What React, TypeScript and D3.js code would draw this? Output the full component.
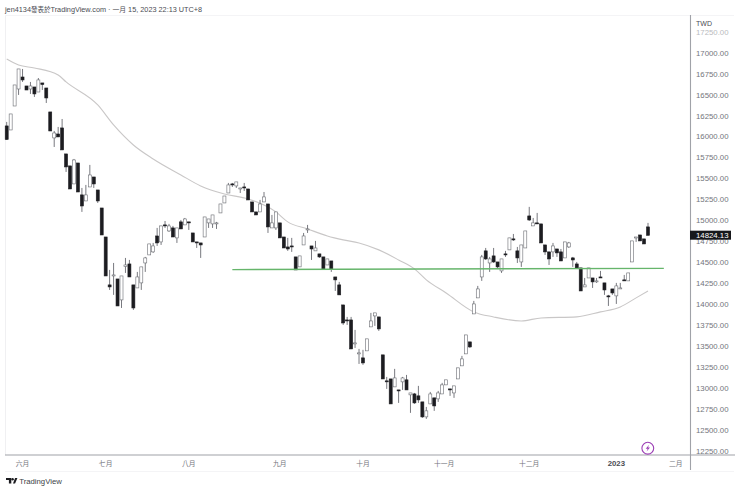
import * as d3 from "d3";

// values, one entry per trading day
const opens = [
  16129, 16081, 16367, 16570, 16713, 16606, 16570, 16594, 16534, 16642,
  16582, 16296, 15986, 16033, 16105, 15795, 15652, 15437, 15687, 15306,
  15234, 15401, 15520, 15365, 15150, 14804, 14232, 14339, 14303, 14053,
  14452, 14482, 14232, 14196, 14256, 14494, 14590, 14626, 14816, 14745,
  14948, 14876, 14912, 14793, 14984, 14948, 14984, 14852, 14745, 14733,
  14804, 14972, 14960, 14966, 15091, 15210, 15329, 15437, 15413, 15382,
  15401, 15377, 15222, 15103, 15103, 15222, 15198, 14912, 14912, 14972,
  14804, 14685, 14697, 14566, 14447, 14709, 14893, 14697, 14638, 14602,
  14566, 14470, 14518, 14327, 14232, 13993, 13814, 13814, 13533, 13409,
  13361, 13445, 13731, 13862, 13850, 13397, 13087, 13110, 13015, 12979,
  13075, 13099, 12920, 12931, 12908, 12836, 12657, 12812, 12884, 12872,
  12931, 13039, 12991, 12943, 13110, 13266, 13409, 13552, 13886, 14077,
  14327, 14638, 14494, 14578, 14506, 14399, 14602, 14650, 14781, 14638,
  14506, 14673, 15055, 14936, 14972, 14960, 14709, 14626, 14626, 14661,
  14626, 14554, 14685, 14554, 14482, 14435, 14208, 14315, 14315, 14272,
  14327, 14256, 14101, 14184, 14101, 14189, 14292, 14280, 14506, 14797,
  14828, 14781, 14924,
];
const closes = [
  15968, 16272, 16618, 16809, 16678, 16558, 16606, 16511, 16678, 16624,
  16463, 16069, 16045, 15998, 15843, 15640, 15377, 15723, 15341, 15174,
  15306, 15544, 15437, 15234, 14828, 14339, 14208, 14351, 13981, 14339,
  14470, 14327, 13957, 14327, 14447, 14554, 14721, 14697, 14733, 14936,
  14940, 14936, 14804, 14912, 14900, 15019, 14975, 14745, 14738, 14709,
  15043, 15019, 15067, 14972, 15198, 15293, 15425, 15430, 15461, 15389,
  15394, 15246, 15103, 15067, 15198, 15282, 14924, 14972, 15103, 14793,
  14673, 14661, 14685, 14411, 14578, 14816, 14900, 14661, 14673, 14566,
  14423, 14542, 14423, 14292, 14113, 13778, 13807, 13468, 13540, 13421,
  13301, 13588, 13802, 13898, 13707, 13110, 13080, 12812, 13122, 12972,
  13122, 12979, 12943, 12824, 12860, 12657, 12729, 12931, 12788, 12943,
  13039, 13099, 12984, 13027, 13242, 13349, 13635, 13492, 14005, 14184,
  14566, 14542, 14542, 14506, 14447, 14542, 14595, 14793, 14774, 14554,
  14709, 14876, 15007, 14972, 14965, 14733, 14626, 14542, 14697, 14614,
  14518, 14745, 14733, 14530, 14435, 14160, 14232, 14435, 14268, 14280,
  14320, 14172, 14094, 14136, 14220, 14196, 14285, 14375, 14757, 14804,
  14757, 14721, 14824.13,
];
const highs = [
  16177, 16272, 16618, 16809, 16809, 16606, 16654, 16594, 16701, 16642,
  16582, 16296, 16069, 16117, 16212, 15795, 15652, 15735, 15687, 15389,
  15425, 15664, 15520, 15365, 15150, 14804, 14411, 14494, 14303, 14339,
  14554, 14530, 14232, 14387, 14447, 14566, 14721, 14733, 14912, 14936,
  14995, 14960, 14936, 14912, 15007, 15031, 14984, 14852, 14745, 14733,
  15043, 15019, 15067, 14984, 15198, 15293, 15449, 15449, 15461, 15389,
  15449, 15377, 15222, 15103, 15246, 15341, 15198, 15067, 15103, 14972,
  14804, 14793, 14793, 14566, 14578, 14852, 14948, 14697, 14757, 14602,
  14566, 14542, 14518, 14327, 14268, 13993, 13850, 13850, 13695, 13468,
  13457, 13588, 13898, 13898, 13850, 13397, 13134, 13110, 13230, 12979,
  13134, 13158, 12943, 12943, 13027, 12836, 12776, 12955, 12884, 12967,
  13063, 13099, 12991, 13027, 13242, 13385, 13635, 13552, 14041, 14220,
  14590, 14673, 14566, 14673, 14506, 14542, 14638, 14793, 14840, 14685,
  14709, 14876, 15163, 15031, 15091, 14960, 14709, 14626, 14733, 14661,
  14661, 14745, 14745, 14566, 14506, 14435, 14315, 14435, 14315, 14315,
  14399, 14256, 14113, 14184, 14256, 14256, 14351, 14375, 14757, 14804,
  14828, 14781, 14972,
];
const lows = [
  15962, 16081, 16367, 16499, 16654, 16558, 16511, 16475, 16534, 16558,
  16403, 16069, 15878, 15998, 15843, 15580, 15377, 15437, 15341, 15103,
  15234, 15401, 15389, 15210, 14828, 14339, 14172, 14113, 13981, 13957,
  14375, 14327, 13934, 14196, 14172, 14387, 14590, 14614, 14697, 14709,
  14912, 14864, 14804, 14733, 14900, 14948, 14888, 14745, 14673, 14554,
  14804, 14912, 14912, 14900, 15091, 15210, 15329, 15401, 15389, 15329,
  15353, 15246, 15103, 15067, 15103, 15222, 14852, 14912, 14888, 14793,
  14673, 14638, 14626, 14411, 14447, 14709, 14852, 14530, 14638, 14554,
  14423, 14470, 14387, 14160, 14113, 13755, 13755, 13468, 13480, 13289,
  13278, 13445, 13731, 13743, 13683, 13110, 12991, 12812, 13015, 12824,
  12979, 12979, 12705, 12812, 12824, 12645, 12633, 12812, 12729, 12836,
  12931, 13039, 12908, 12884, 13110, 13266, 13409, 13480, 13886, 14077,
  14280, 14530, 14387, 14494, 14423, 14375, 14566, 14650, 14757, 14494,
  14447, 14673, 14995, 14936, 14960, 14733, 14590, 14470, 14566, 14566,
  14518, 14554, 14673, 14447, 14423, 14160, 14208, 14315, 14196, 14256,
  14315, 14113, 13981, 14113, 14005, 14184, 14280, 14280, 14506, 14745,
  14757, 14721, 14824,
];

// moving average, read at the days where its bends are clearest
const maDays = [
  0, 3, 7, 13, 15, 23, 27, 32, 37, 44, 49, 55, 61, 68, 71, 76, 81, 85, 89, 94,
  99, 103, 106, 111, 118, 123, 130, 135, 144, 150, 155, 159, 162,
];
const maValues = [
  16928, 16857, 16821, 16737, 16654, 16379, 16141, 15902, 15735, 15544, 15413,
  15317, 15258, 15103, 14984, 14900, 14816, 14769, 14733, 14650, 14530, 14423,
  14292, 14136, 13910, 13850, 13802, 13838, 13850, 13910, 13969, 14077, 14160,
];

const supportDays = [57, 166];
const supportValues = [14415, 14430];

const priceTicks = d3.range(12250, 17251, 250);
const monthDays = [4, 25, 46, 69, 90, 110.5, 132, 154, 169];
const monthLabels = ["六月", "七月", "八月", "九月", "十月", "十一月", "十二月", "2023", "二月"];

const lastPrice = 14824.13;

const width = 740;
const height = 491;
const sans = "'Liberation Sans', Arial, sans-serif";
const cjk = "'Liberation Sans', 'Noto Sans CJK TC', sans-serif";

const x = d3.scaleLinear().domain([0, 162]).range([6.7, 648]);
const y = d3.scaleLinear().domain([12250, 17250]).range([451, 32]);

const maLine = d3
  .line<number>()
  .x((d) => x(d))
  .y((_, i) => y(maValues[i]))
  .curve(d3.curveMonotoneX);

const supportLine = d3
  .line<number>()
  .x((d) => x(d))
  .y((_, i) => y(supportValues[i]));

export default function App() {
  const bodyW = 3;
  return (
    <svg
      width={width}
      height={height}
      style={{ position: "absolute", left: 0, top: 0, background: "#fff" }}
    >
      <text x={5} y={11.6} fontSize={7.3} fill="#4a4c53" fontFamily={cjk}>
        jen4134<tspan fontSize={6.5}>發表於</tspan>TradingView.com
        <tspan dx={2}>·</tspan>
        <tspan dx={2} fontSize={6.8}>一月</tspan> 15, 2023 22:13 UTC+8
      </text>

      {/* pane frame */}
      <line x1={5.5} x2={5.5} y1={15} y2={455} stroke="#f0f0f2" />
      <line x1={5} x2={734} y1={15.5} y2={15.5} stroke="#f4f4f6" />
      <line x1={690.5} x2={690.5} y1={15} y2={470} stroke="#a0a2a8" strokeWidth={1.1} />
      <line x1={5} x2={735} y1={455} y2={455} stroke="#a0a2a8" strokeWidth={1.1} />
      <line x1={5} x2={734} y1={471.5} y2={471.5} stroke="#f4f4f6" />

      <path d={maLine(maDays) ?? ""} fill="none" stroke="#c9c7c7" strokeWidth={1.1} />

      {opens.map((o, i) => {
        const c = closes[i];
        const up = c >= o;
        const top = y(Math.max(o, c));
        const h = Math.abs(y(o) - y(c));
        return (
          <g key={i}>
            <line
              x1={x(i)}
              x2={x(i)}
              y1={y(highs[i])}
              y2={y(lows[i])}
              stroke="#55575e"
              strokeWidth={0.8}
            />
            <rect
              x={x(i) - bodyW / 2}
              y={top}
              width={bodyW}
              height={Math.max(h, 1)}
              fill={up ? "#fff" : "#1c1c20"}
              stroke={up ? "#6a6c72" : "#1c1c20"}
              strokeWidth={0.6}
            />
          </g>
        );
      })}

      <path d={supportLine(supportDays) ?? ""} fill="none" stroke="#66b56b" strokeWidth={1.3} />

      {/* price axis */}
      <text x={696} y={25.5} fontSize={7} fill="#4a4c53" fontFamily={sans}>
        TWD
      </text>
      {priceTicks.map((t) => (
        <text
          key={t}
          x={696}
          y={y(t)}
          dy="0.35em"
          fontSize={7.8}
          fill="#73757c"
          opacity={t === 17250 ? 0.5 : 1}
          fontFamily={sans}
        >
          {t.toFixed(2)}
        </text>
      ))}
      <rect x={690} y={y(lastPrice) - 4.6} width={41} height={9} fill="#17181c" />
      <text
        x={696}
        y={y(lastPrice)}
        dy="0.37em"
        fontSize={7.8}
        fill="#fff"
        fontFamily={sans}
      >
        {lastPrice.toFixed(2)}
      </text>

      {/* time axis */}
      {monthDays.map((d, i) => {
        const isYear = monthLabels[i] === "2023";
        return (
          <text
            key={monthLabels[i]}
            x={x(d)}
            y={466}
            textAnchor="middle"
            fontSize={isYear ? 7.8 : 6.8}
            fontWeight={isYear ? 700 : 400}
            fill={isYear ? "#4a4c53" : "#73757c"}
            fontFamily={cjk}
          >
            {monthLabels[i]}
          </text>
        );
      })}

      {/* lightning marker */}
      <circle cx={647.8} cy={448.2} r={5.9} fill="#fff" stroke="#9c3fb5" strokeWidth={1.1} />
      <path d="M649.1 444.8 L645.7 448.8 L647.7 448.8 L646.6 451.6 L650 447.6 L648 447.6 Z" fill="#9c3fb5" />

      {/* footer logo */}
      <path d="M6 478 H11.3 V483.6 H8.9 V480 H6 Z" fill="#1c1c20" />
      <circle cx={12.6} cy={479.2} r={1.2} fill="#1c1c20" />
      <path d="M13 483.6 L15.1 478 H17.4 L15.1 483.6 Z" fill="#1c1c20" />
      <text x={19.2} y={484} fontSize={7.75} fill="#3d3f46" fontFamily={sans}>
        TradingView
      </text>
    </svg>
  );
}
